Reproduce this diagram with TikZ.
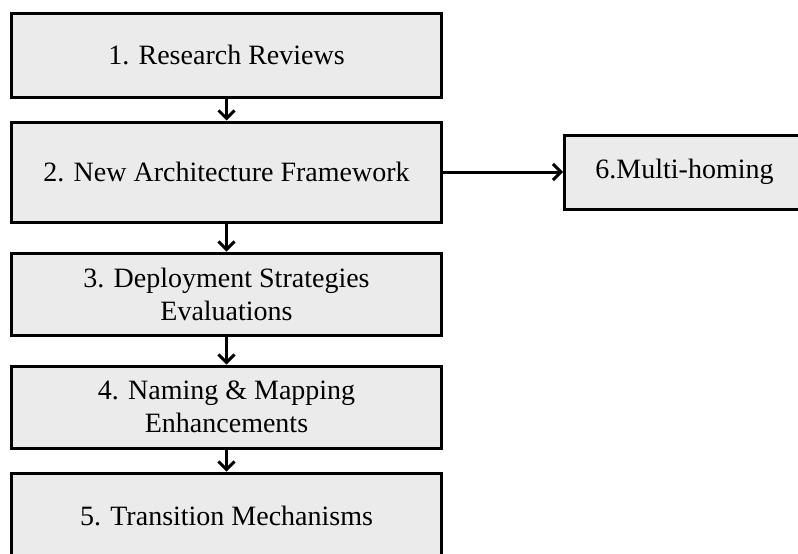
\documentclass[tikz,border=0pt]{standalone}
\usepackage{fontspec}
\setmainfont{Liberation Serif}
\usepackage{tikz}
\usetikzlibrary{arrows,arrows.meta,shapes,positioning}
\definecolor{boxgray}{RGB}{235,235,235}
\tikzstyle{stage}=[rectangle,draw=black,fill=boxgray,line width=3pt,
  			  minimum width=430pt,inner sep=2pt,align=center]
\tikzstyle{arrow}=[-{Straight Barb[length=8pt,width=16pt]},line width=3pt,draw=black]

\begin{document}
\begin{tikzpicture}[x=1pt,y=1pt,node distance=28pt,
                    font=\fontsize{28}{33}\selectfont]
	\useasboundingbox (0,0) rectangle (798,-554);
	\node[stage,minimum height=84pt] (s1) at (226.5,-55) {1. Research Reviews};
	\node[stage,minimum height=100pt] (s2) [below=22pt of s1] {2. New Architecture Framework};
	\node[stage,minimum height=82pt] (s3) [below=of s2] {3. Deployment Strategies\\Evaluations};
	\node[stage,minimum height=82pt] (s4) [below=of s3] {4. Naming \& Mapping\\Enhancements};
	\node[stage,minimum height=86pt] (s5) [below=22pt of s4] {5. Transition Mechanisms};
	\node[stage,minimum height=74pt,minimum width=240pt] (s6) [right=120pt of s2] {6.Multi-homing};

  \path [arrow] 
		(s1) edge (s2);
  \path [arrow] 
        (s2) edge (s3);
  \path [arrow] 
        (s3) edge (s4);
  \path [arrow] 
        (s4) edge (s5);
  \path [arrow] 
        (s2) edge (s6);
\end{tikzpicture}
\end{document}
